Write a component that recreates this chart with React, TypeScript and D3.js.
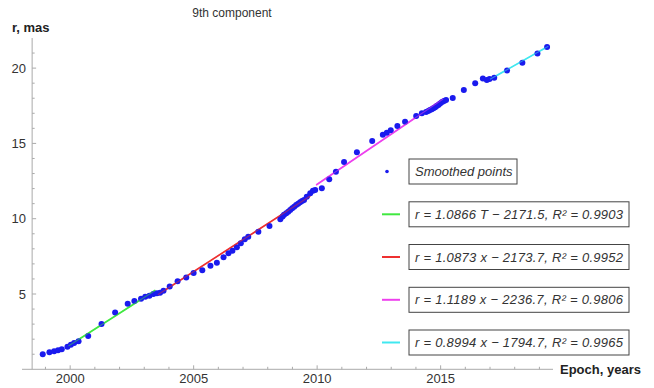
import React from "react";
import * as d3 from "d3";

const pointYears = [
  1998.89, 1999.16, 1999.35, 1999.51, 1999.66, 1999.89, 2000.03, 2000.16, 2000.34, 2000.73,
  2001.27, 2001.82, 2002.33, 2002.6, 2002.87, 2003.04, 2003.21, 2003.37, 2003.51, 2003.64,
  2003.78, 2004.03, 2004.35, 2004.7, 2005.0, 2005.35, 2005.68, 2005.94, 2006.21, 2006.41,
  2006.57, 2006.75, 2006.91, 2007.07, 2007.21, 2007.62, 2008.07, 2008.51, 2008.6, 2008.66,
  2008.75, 2008.83, 2008.91, 2008.99, 2009.07, 2009.15, 2009.23, 2009.31, 2009.39, 2009.47,
  2009.58, 2009.72, 2009.83, 2009.92, 2010.19, 2010.49, 2010.76, 2011.09, 2011.61, 2012.23,
  2012.66, 2012.82, 2012.98, 2013.25, 2013.56, 2014.01, 2014.24, 2014.41, 2014.5, 2014.57,
  2014.64, 2014.71, 2014.78, 2014.84, 2014.91, 2014.98, 2015.06, 2015.14, 2015.22, 2015.49,
  2015.94, 2016.4, 2016.71, 2016.87, 2016.98, 2017.17, 2017.69, 2018.31, 2018.92, 2019.31,
];
const pointR = [
  1.0, 1.13, 1.2, 1.26, 1.33, 1.5, 1.63, 1.75, 1.86, 2.21,
  3.0, 3.78, 4.36, 4.54, 4.69, 4.82, 4.89, 5.0, 5.05, 5.09,
  5.22, 5.5, 5.85, 6.09, 6.39, 6.57, 6.88, 7.07, 7.44, 7.7,
  7.88, 8.1, 8.37, 8.63, 8.8, 9.14, 9.52, 9.96, 10.15, 10.27,
  10.37, 10.47, 10.58, 10.69, 10.8, 10.91, 11.0, 11.09, 11.17, 11.24,
  11.46, 11.69, 11.86, 11.9, 12.02, 12.62, 13.12, 13.77, 14.41, 15.16,
  15.58, 15.71, 15.87, 16.16, 16.44, 16.82, 17.0, 17.08, 17.15, 17.22,
  17.27, 17.33, 17.4, 17.48, 17.55, 17.65, 17.75, 17.82, 17.88, 18.02,
  18.54, 18.99, 19.31, 19.21, 19.28, 19.36, 19.85, 20.35, 20.97, 21.4,
];

// fitted segments: start/end epoch and r
const fitLabels = [
  "r = 1.0866 T − 2171.5, R² = 0.9903",
  "r = 1.0873 x − 2173.7, R² = 0.9952",
  "r = 1.1189 x − 2236.7, R² = 0.9806",
  "r = 0.8994 x − 1794.7, R² = 0.9965",
];
const fitColors = ["#40e840", "#ee3030", "#ee40ee", "#40e8f0"];
const fitStartYear = [1999.93, 2003.55, 2009.96, 2017.0];
const fitEndYear = [2003.45, 2009.72, 2015.1, 2019.36];
const fitStartR = [1.55, 4.95, 12.24, 19.26];
const fitEndR = [5.25, 11.5, 17.95, 21.45];

const xMajor = [2000, 2005, 2010, 2015];
const yMajor = [5, 10, 15, 20];

export default function App() {
  const W = 654, H = 388;
  const x = d3.scaleLinear().domain([1998.05, 2019.55]).range([22, 553]);
  const y = d3.scaleLinear().domain([0, 22]).range([369.3, 38]);
  const axisX = x(1998.46);
  const axisY = y(0);
  const xMinor = d3.range(1999, 2020).filter((v) => !xMajor.includes(v));
  const yMinor = d3.range(1, 22).filter((v) => !yMajor.includes(v));
  const axisColor = "#aaaaaa";
  const font = "'Liberation Sans', Arial, sans-serif";
  const line = d3.line<[number, number]>().x((d) => x(d[0])).y((d) => y(d[1]));
  const legendCenters = [171.5, 214.3, 257, 299.8, 342.5];
  const boxX = 409;

  return (
    <svg width={W} height={H} style={{ position: "absolute", left: 0, top: 0, background: "#fff" }} fontFamily={font}>
      <rect x={0} y={0} width={W} height={H} fill="#fff" />
      <text x={232} y={17} textAnchor="middle" fontSize={12} fill="#333">9th component</text>
      <text x={12} y={32} fontSize={13} fontWeight="bold" fill="#222">r, mas</text>
      <text x={560} y={374} fontSize={13} fontWeight="bold" fill="#222">Epoch, years</text>

      {/* axes */}
      <line x1={axisX} x2={axisX} y1={38} y2={axisY} stroke={axisColor} strokeWidth={1} />
      <line x1={22} x2={553} y1={axisY} y2={axisY} stroke={axisColor} strokeWidth={1} />
      {xMajor.map((v) => (
        <g key={"xm" + v}>
          <line x1={x(v)} x2={x(v)} y1={axisY} y2={axisY - 4} stroke={axisColor} />
          <text x={x(v)} y={383} textAnchor="middle" fontSize={13} fill="#333">{v}</text>
        </g>
      ))}
      {xMinor.map((v) => (
        <line key={"xn" + v} x1={x(v)} x2={x(v)} y1={axisY} y2={axisY - 2.5} stroke={axisColor} />
      ))}
      {yMajor.map((v) => (
        <g key={"ym" + v}>
          <line x1={axisX} x2={axisX + 4} y1={y(v)} y2={y(v)} stroke={axisColor} />
          <text x={26} y={y(v) + 4.5} textAnchor="end" fontSize={13} fill="#333">{v}</text>
        </g>
      ))}
      {yMinor.map((v) => (
        <line key={"yn" + v} x1={axisX} x2={axisX + 2.5} y1={y(v)} y2={y(v)} stroke={axisColor} />
      ))}

      {/* fit lines */}
      {fitColors.map((c, i) => (
        <path
          key={"fit" + i}
          d={line([[fitStartYear[i], fitStartR[i]], [fitEndYear[i], fitEndR[i]]]) || ""}
          stroke={c}
          strokeWidth={1.6}
          fill="none"
        />
      ))}

      {/* points */}
      {pointYears.map((t, i) => (
        <circle key={"p" + i} cx={x(t)} cy={y(pointR[i])} r={3} fill="#1a1aee" />
      ))}
      {/* fit lines faint over points */}
      {fitColors.map((c, i) => (
        <path
          key={"fit2" + i}
          d={line([[fitStartYear[i], fitStartR[i]], [fitEndYear[i], fitEndR[i]]]) || ""}
          stroke={c}
          strokeWidth={1.2}
          strokeOpacity={0.5}
          fill="none"
        />
      ))}

      {/* legend */}
      <circle cx={387} cy={legendCenters[0]} r={1.8} fill="#1a1aee" />
      <rect x={boxX} y={legendCenters[0] - 12.5} width={108} height={25} fill="#fff" stroke="#444" strokeWidth={1} />
      <text x={boxX + 6} y={legendCenters[0] + 4.5} fontSize={13} fontStyle="italic" fill="#333">Smoothed points</text>
      {fitLabels.map((lab, i) => {
        const cy = legendCenters[i + 1];
        return (
          <g key={"leg" + i}>
            <line x1={382} x2={400} y1={cy} y2={cy} stroke={fitColors[i]} strokeWidth={2} />
            <rect x={boxX} y={cy - 12.5} width={220} height={25} fill="#fff" stroke="#444" strokeWidth={1} />
            <text x={boxX + 6} y={cy + 4.5} fontSize={13} fontStyle="italic" fill="#333" textLength={208} lengthAdjust="spacing">{lab}</text>
          </g>
        );
      })}
    </svg>
  );
}
